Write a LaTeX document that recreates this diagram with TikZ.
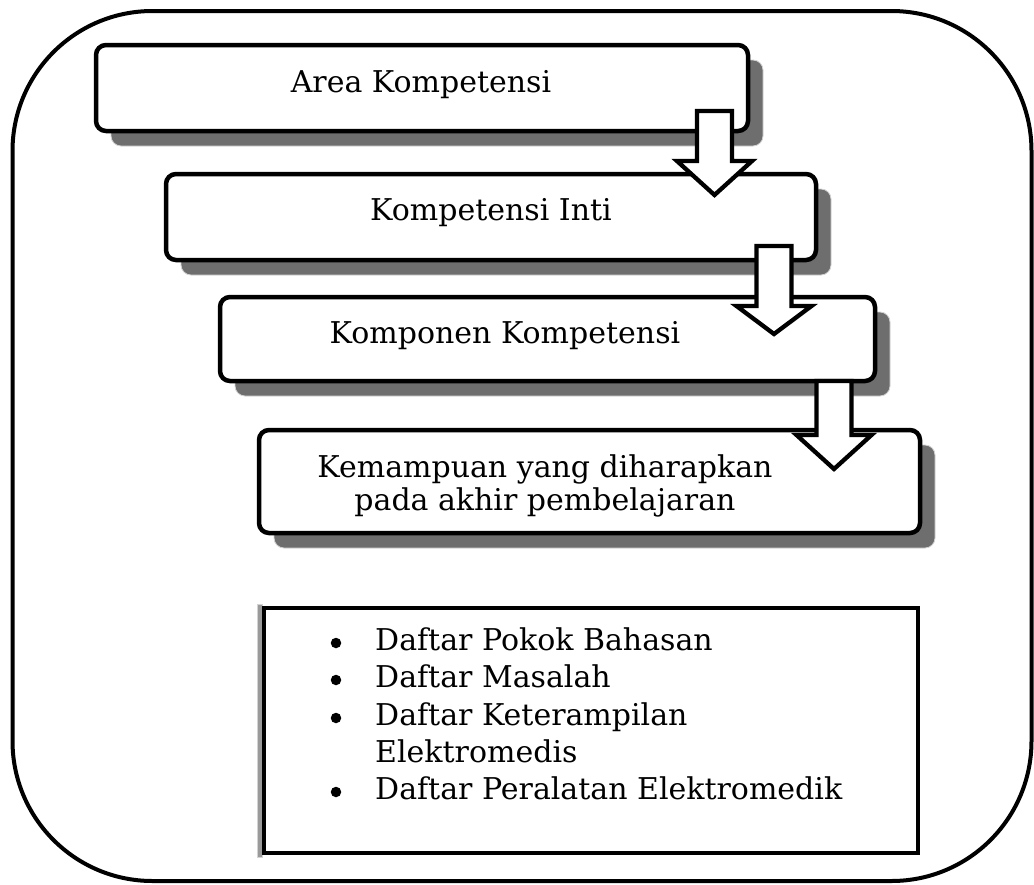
\documentclass[tikz,border=0pt]{standalone}
\usepackage{fontspec}
\setmainfont{DejaVu Serif}
\usetikzlibrary{shadows}
\definecolor{shadowgrey}{RGB}{110,110,110}
\tikzset{
  frame/.style    ={draw=black, line width=4pt, rounded corners=140pt},
  stepbox/.style  ={rectangle, rounded corners=10pt, draw=black, fill=white,
                    line width=4.5pt, inner sep=0pt,
                    general shadow={shadow xshift=15pt, shadow yshift=-15pt,
                                    fill=shadowgrey, draw=white!70!shadowgrey, line width=0.8pt}},
  steptext/.style ={font=\fontsize{30}{36}\selectfont, anchor=base, inner sep=0pt},
  blockarrow/.style={draw=black, fill=white, line width=4.3pt, line join=miter},
  listbox/.style  ={rectangle, draw=black, fill=white, line width=4pt, inner sep=0pt},
  listtext/.style ={font=\fontsize{30}{36}\selectfont, anchor=base west, inner sep=0pt},
  listdot/.style  ={circle, fill=black, minimum size=10.5pt, inner sep=0pt},
}
\begin{document}
\begin{tikzpicture}[x=1pt, y=-1pt]
  \useasboundingbox (0,0) rectangle (1034,884);
  \draw[frame] (12.5,11) rectangle (1031.5,881);
  % the four steps
  \node[stepbox, minimum width=652pt, minimum height=86pt] (area) at (422,88) {};
  \node[stepbox, minimum width=650pt, minimum height=86pt] (inti) at (491,217) {};
  \node[stepbox, minimum width=655pt, minimum height=84pt] (komponen) at (547.5,339) {};
  \node[stepbox, minimum width=661pt, minimum height=103pt] (kemampuan) at (589.5,481.5) {};
  \node[steptext] (areatxt) at (421,92) {Area Kompetensi};
  \node[steptext] (intitxt) at (491,220) {Kompetensi Inti};
  \node[steptext] (komponentxt) at (505,343) {Komponen Kompetensi};
  \node[steptext] (kemampuantxt) at (545,477) {Kemampuan yang diharapkan};
  \node[steptext] (kemampuantxtb) at (545,510) {pada akhir pembelajaran};
  % arrows between the steps
  \foreach \x/\top/\sh/\tip in {714.5/111/161/195, 774/246/306/334, 834/381/435/469}{
    \draw[blockarrow] (\x-17.5,\top) -- (\x+17.5,\top) -- (\x+17.5,\sh) -- (\x+37.5,\sh)
      -- (\x,\tip) -- (\x-37.5,\sh) -- (\x-17.5,\sh) -- cycle;
  }
  % list of outputs
  \fill[shadowgrey!70, draw=white!70!shadowgrey, line width=0.6pt] (257,604) rectangle (262.5,857);
  \node[listbox, minimum width=654pt, minimum height=245pt] (daftar) at (591,730.5) {};
  \foreach \i/\y/\txt in {1/650/Daftar Pokok Bahasan, 2/687/Daftar Masalah,
                          3/725/Daftar Keterampilan, 4/799/Daftar Peralatan Elektromedik}{
    \node[listdot] (dot\i) at (336,\y-7) {};
    \node[listtext] (item\i) at (375,\y) {\txt};
  }
  \node[listtext] (item3b) at (375,762) {Elektromedis};
\end{tikzpicture}
\end{document}
